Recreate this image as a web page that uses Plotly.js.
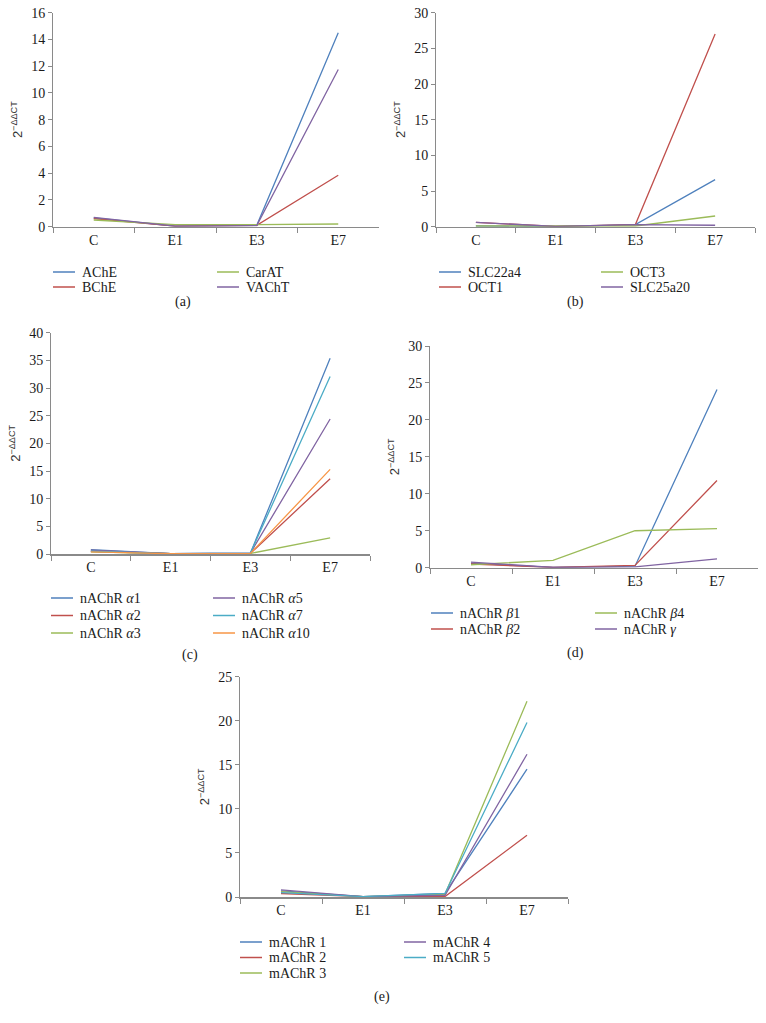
<!DOCTYPE html>
<html>
<head>
<meta charset="utf-8">
<script src="https://cdn.plot.ly/plotly-3.0.1.min.js"></script>
<style>html,body{margin:0;padding:0;background:#fff;}#chart{width:766px;height:1023px;}</style>
</head>
<body>
<div id="chart"></div>
<script>
// ---------- DATA ----------
const categories = ['C', 'E1', 'E3', 'E7'];

// (a)
const namesA = ['AChE', 'BChE', 'CarAT', 'VAChT'];
const achE  = [0.65, 0.05, 0.1, 14.5];
const bchE  = [0.6, 0.05, 0.1, 3.85];
const carAT = [0.5, 0.15, 0.15, 0.2];
const vachT = [0.7, 0.05, 0.08, 11.75];

// (b)
const namesB = ['SLC22a4', 'OCT1', 'OCT3', 'SLC25a20'];
const slc22a4  = [0.1, 0.02, 0.3, 6.6];
const oct1     = [0.6, 0.05, 0.3, 27.0];
const oct3     = [0.1, 0.05, 0.1, 1.5];
const slc25a20 = [0.6, 0.05, 0.3, 0.2];

// (c)
const namesC = ['nAChR <i>α</i>1', 'nAChR <i>α</i>2', 'nAChR <i>α</i>3', 'nAChR <i>α</i>5', 'nAChR <i>α</i>7', 'nAChR <i>α</i>10'];
const nA1  = [0.8, 0.05, 0.15, 35.4];
const nA2  = [0.5, 0.05, 0.1, 13.6];
const nA3  = [0.4, 0.05, 0.1, 2.9];
const nA5  = [0.7, 0.05, 0.15, 24.4];
const nA7  = [0.5, 0.05, 0.15, 32.1];
const nA10 = [0.4, 0.05, 0.1, 15.3];

// (d)
const namesD = ['nAChR <i>β</i>1', 'nAChR <i>β</i>2', 'nAChR <i>β</i>4', 'nAChR <i>γ</i>'];
const nB1 = [0.6, 0.05, 0.2, 24.1];
const nB2 = [0.5, 0.05, 0.3, 11.8];
const nB4 = [0.4, 1.0, 5.0, 5.3];
const nG  = [0.75, 0.05, 0.1, 1.2];

// (e)
const namesE = ['mAChR 1', 'mAChR 2', 'mAChR 3', 'mAChR 4', 'mAChR 5'];
const m1 = [0.7, 0.05, 0.4, 14.5];
const m2 = [0.4, 0.05, 0.05, 7.0];
const m3 = [0.6, 0.05, 0.3, 22.2];
const m4 = [0.8, 0.05, 0.2, 16.2];
const m5 = [0.5, 0.05, 0.4, 19.8];

const yTickStep = [2, 5, 5, 5, 5];
const yMax = [16, 30, 40, 30, 25];
const captions = ['(a)', '(b)', '(c)', '(d)', '(e)'];
const yTitle = '2<sup>−ΔΔCT</sup>';

// ---------- STYLE / LAYOUT ----------
const BLUE = '#4F81BD', RED = '#C0504D', GREEN = '#9BBB59', PURPLE = '#8064A2', CYAN = '#4BACC6', ORANGE = '#F79646';
const W = 766, H = 1023;
const SERIF = 'Liberation Serif';
const SANS = 'Liberation Sans';

const panels = [
  { names: namesA, series: [achE, bchE, carAT, vachT], colors: [BLUE, RED, GREEN, PURPLE],
    px: [53, 379], py: [12.7, 226.7], legCols: [53, 217], legY: 272, legDy: 15, rows: 2, cap: [183, 302] },
  { names: namesB, series: [slc22a4, oct1, oct3, slc25a20], colors: [BLUE, RED, GREEN, PURPLE],
    px: [436, 755], py: [12.7, 226.7], legCols: [439, 601], legY: 272, legDy: 15, rows: 2, cap: [575, 302] },
  { names: namesC, series: [nA1, nA2, nA3, nA5, nA7, nA10], colors: [BLUE, RED, GREEN, PURPLE, CYAN, ORANGE],
    px: [51, 370], py: [332.7, 554], legCols: [51, 213], legY: 598, legDy: 17.5, rows: 3, cap: [190, 655] },
  { names: namesD, series: [nB1, nB2, nB4, nG], colors: [BLUE, RED, GREEN, PURPLE],
    px: [430, 758], py: [346, 567.7], legCols: [431, 595], legY: 613, legDy: 16, rows: 2, cap: [575, 653] },
  { names: namesE, series: [m1, m2, m3, m4, m5], colors: [BLUE, RED, GREEN, PURPLE, CYAN],
    px: [240, 568], py: [676.7, 897], legCols: [240, 404], legY: 942, legDy: 15.5, rows: 3, cap: [382, 997] }
];

const traces = [];
const shapes = [];
const annotations = [];
const layout = {
  width: W, height: H,
  margin: { l: 0, r: 0, t: 0, b: 0 },
  paper_bgcolor: '#fff', plot_bgcolor: 'rgba(0,0,0,0)',
  showlegend: false,
  font: { family: SERIF, size: 14, color: '#1a1a1a' }
};

panels.forEach((p, i) => {
  const k = i === 0 ? '' : String(i + 1);
  p.series.forEach((vals, j) => {
    traces.push({
      type: 'scatter', mode: 'lines', x: categories, y: vals, name: p.names[j],
      xaxis: 'x' + k, yaxis: 'y' + k,
      line: { color: p.colors[j], width: 1.3 },
      hoverinfo: 'skip'
    });
  });
  layout['xaxis' + k] = {
    domain: [p.px[0] / W, p.px[1] / W],
    anchor: 'y' + k,
    type: 'category', categoryorder: 'array', categoryarray: categories,
    range: [-0.5, 3.5], fixedrange: true,
    tickson: 'boundaries', ticks: 'outside', ticklen: 5, tickcolor: '#8a8a8a', tickwidth: 1,
    showline: true, linecolor: '#8a8a8a', linewidth: 1.5,
    showgrid: false, zeroline: false,
    tickfont: { family: SERIF, size: 14, color: '#1a1a1a' }
  };
  layout['yaxis' + k] = {
    domain: [1 - p.py[1] / H, 1 - p.py[0] / H],
    anchor: 'x' + k,
    range: [0, yMax[i]], dtick: yTickStep[i], tick0: 0, fixedrange: true,
    ticks: 'outside', ticklen: 4, tickcolor: '#8a8a8a', tickwidth: 1,
    showline: true, linecolor: '#8a8a8a', linewidth: 1,
    showgrid: false, zeroline: false,
    tickfont: { family: SERIF, size: 14, color: '#1a1a1a' },
    title: { text: yTitle, standoff: 5, font: { family: SANS, size: 13, color: '#333' } }
  };
  // caption
  annotations.push({
    xref: 'paper', yref: 'paper', x: p.cap[0] / W, y: 1 - p.cap[1] / H,
    text: captions[i], showarrow: false, xanchor: 'center', yanchor: 'middle',
    font: { family: SERIF, size: 14, color: '#1a1a1a' }
  });
  // legend (two columns, column-major)
  p.names.forEach((nm, j) => {
    const col = Math.floor(j / p.rows), row = j % p.rows;
    const x0 = p.legCols[col], yy = p.legY + row * p.legDy;
    shapes.push({
      type: 'line', xref: 'paper', yref: 'paper',
      x0: x0 / W, x1: (x0 + 22) / W, y0: 1 - yy / H, y1: 1 - yy / H,
      line: { color: p.colors[j], width: 1.5 }
    });
    annotations.push({
      xref: 'paper', yref: 'paper', x: (x0 + 27) / W, y: 1 - yy / H,
      text: nm, showarrow: false, xanchor: 'left', yanchor: 'middle',
      font: { family: SERIF, size: 14, color: '#1a1a1a' }
    });
  });
});

layout.shapes = shapes;
layout.annotations = annotations;

Plotly.newPlot('chart', traces, layout, { displayModeBar: false, staticPlot: true });
</script>
</body>
</html>
